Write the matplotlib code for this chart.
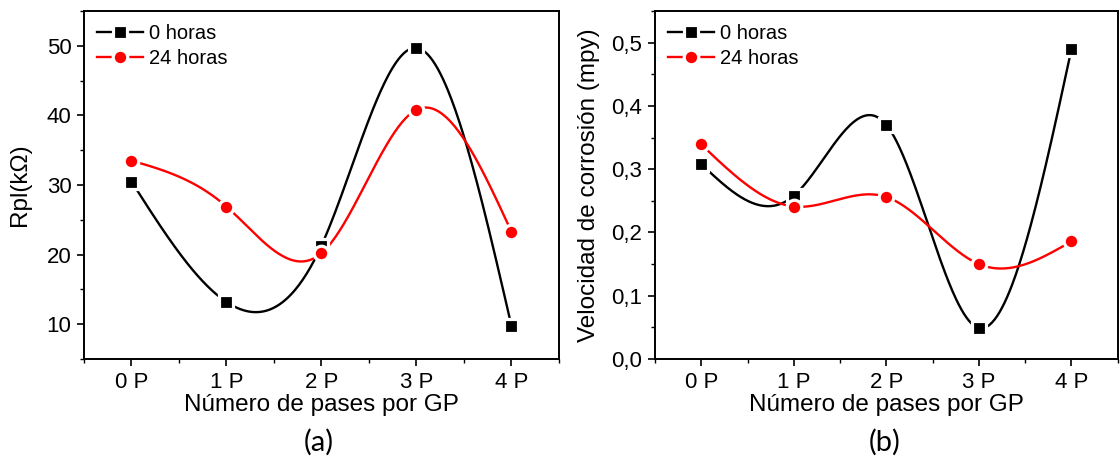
import numpy as np
import matplotlib
matplotlib.use('Agg')
import matplotlib.pyplot as plt
from matplotlib.ticker import MultipleLocator, FuncFormatter

# data
pases = ['0 P', '1 P', '2 P', '3 P', '4 P']
rpl_0h = [30.5, 13.2, 21.3, 49.7, 9.8]
rpl_24h = [33.5, 26.9, 20.2, 40.8, 23.3]
vel_0h = [0.308, 0.258, 0.370, 0.049, 0.490]
vel_24h = [0.339, 0.241, 0.256, 0.150, 0.186]

plt.rcParams['font.family'] = ['Liberation Sans', 'DejaVu Sans']


def natural_spline(x, y, n=300):
    """natural cubic spline through the points (no scipy here)"""
    x = np.asarray(x, float)
    y = np.asarray(y, float)
    m = len(x)
    h = np.diff(x)
    A = np.zeros((m, m))
    b = np.zeros(m)
    A[0, 0] = 1
    A[-1, -1] = 1
    for i in range(1, m - 1):
        A[i, i - 1] = h[i - 1]
        A[i, i] = 2 * (h[i - 1] + h[i])
        A[i, i + 1] = h[i]
        b[i] = 3 * ((y[i + 1] - y[i]) / h[i] - (y[i] - y[i - 1]) / h[i - 1])
    c = np.linalg.solve(A, b)
    xs = np.linspace(x[0], x[-1], n)
    ys = np.empty_like(xs)
    for k, xv in enumerate(xs):
        i = min(np.searchsorted(x, xv, side='right') - 1, m - 2)
        dx = xv - x[i]
        bb = (y[i + 1] - y[i]) / h[i] - h[i] * (2 * c[i] + c[i + 1]) / 3
        dd = (c[i + 1] - c[i]) / (3 * h[i])
        ys[k] = y[i] + bb * dx + c[i] * dx ** 2 + dd * dx ** 3
    return xs, ys


def draw_series(ax, y, color, marker, label):
    x = np.arange(len(y))
    xs, ys = natural_spline(x, y)
    ax.plot(xs, ys, color=color, lw=1.7, zorder=2)
    ax.plot(x, y, ls='none', marker=marker, ms=10.5, color=color,
            mec='white', mew=2.3, zorder=3)
    # legend proxy: line + marker with gap
    ax.plot([], [], color=color, lw=1.7, marker=marker, ms=10.5,
            mec='white', mew=2.3, label=label)


def style_axes(ax, ylim, major, minor):
    ax.set_xlim(-0.5, 4.5)
    ax.set_ylim(*ylim)
    ax.set_xticks(range(len(pases)))
    ax.set_xticklabels(pases)
    ax.xaxis.set_minor_locator(MultipleLocator(0.5))
    ax.yaxis.set_major_locator(MultipleLocator(major))
    ax.yaxis.set_minor_locator(MultipleLocator(minor))
    ax.tick_params(which='major', direction='out', length=5, width=1.2,
                   labelsize=16, pad=4)
    ax.tick_params(which='minor', direction='out', length=3, width=1.0)
    for s in ax.spines.values():
        s.set_linewidth(1.4)
    ax.set_xlabel('Número de pases por GP', fontsize=17.5, labelpad=1)
    leg = ax.legend(loc='upper left', frameon=False, fontsize=14.5,
                    handlelength=2.3, handletextpad=0.3, labelspacing=0.3,
                    borderaxespad=0.35, borderpad=0.3)
    return leg


fig = plt.figure(figsize=(11.2, 4.57), dpi=100)
ax1 = fig.add_axes([0.075, 0.2144, 0.424, 0.7616])
ax2 = fig.add_axes([0.5848, 0.2144, 0.4132, 0.7616])

draw_series(ax1, rpl_0h, 'black', 's', '0 horas')
draw_series(ax1, rpl_24h, '#ff0000', 'o', '24 horas')
style_axes(ax1, (5, 55), 10, 5)
ax1.set_yticks([10, 20, 30, 40, 50])
ax1.set_ylabel('Rpl(kΩ)', fontsize=17.5, labelpad=11)

draw_series(ax2, vel_0h, 'black', 's', '0 horas')
draw_series(ax2, vel_24h, '#ff0000', 'o', '24 horas')
style_axes(ax2, (0, 0.55), 0.1, 0.05)
ax2.yaxis.set_major_formatter(FuncFormatter(lambda v, p: f'{v:.1f}'.replace('.', ',')))
ax2.set_ylabel('Velocidad de corrosión (mpy)', fontsize=17.5, labelpad=8)

fig.text(0.285, 0.033, '(a)', fontsize=21, family=['Lato', 'DejaVu Sans'],
         ha='center', va='center')
fig.text(0.79, 0.033, '(b)', fontsize=21, family=['Lato', 'DejaVu Sans'],
         ha='center', va='center')

fig.savefig('out.png', dpi=100)
